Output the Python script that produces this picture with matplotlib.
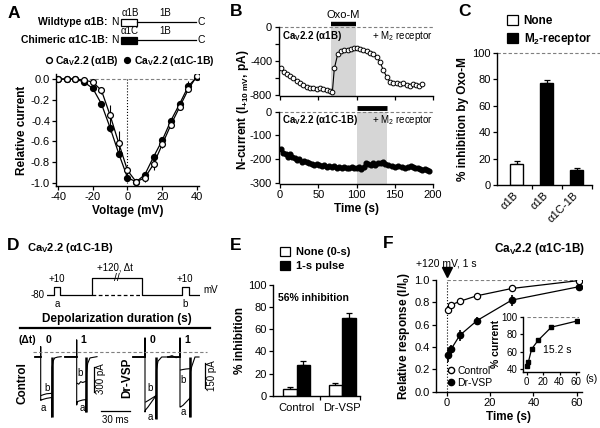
import numpy as np
import matplotlib
matplotlib.use('Agg')
import matplotlib.pyplot as plt
from matplotlib.lines import Line2D
from matplotlib.patches import Patch, Rectangle

plt.rcParams['font.family'] = ['Liberation Sans', 'DejaVu Sans']
plt.rcParams['mathtext.fontset'] = 'custom'
plt.rcParams['mathtext.rm'] = 'Liberation Sans'
plt.rcParams['mathtext.bf'] = 'Liberation Sans:bold'
plt.rcParams['mathtext.it'] = 'Liberation Sans:italic'
plt.rcParams['axes.unicode_minus'] = False
plt.rcParams['axes.linewidth'] = 1.0

# ---------------- data ----------------
# A: I-V relation
volt = [-40, -35, -30, -25, -20, -15, -10, -5, 0, 5, 10, 15, 20, 25, 30, 35, 40]
iv_wt = [0.0, 0.0, 0.0, -0.01, -0.03, -0.11, -0.35, -0.62, -0.88, -0.99, -0.95, -0.82, -0.63, -0.44, -0.27, -0.10, 0.03]
iv_wt_err = [0, 0, 0, 0.01, 0.01, 0.03, 0.10, 0.12, 0.04, 0.02, 0.04, 0.06, 0.03, 0.02, 0.02, 0.02, 0.02]
iv_chim = [0.0, 0.0, 0.0, -0.03, -0.09, -0.24, -0.47, -0.72, -0.95, -0.99, -0.92, -0.75, -0.59, -0.40, -0.24, -0.07, 0.02]
iv_chim_err = [0, 0, 0, 0.01, 0.02, 0.03, 0.04, 0.03, 0.02, 0.01, 0.02, 0.03, 0.02, 0.02, 0.02, 0.05, 0.02]

# B: time courses
b_top_t = [1.3, 5.7, 9.6, 13, 17.4, 21.8, 26.1, 30.5, 34.9, 39.2, 43.5, 47.9, 52.2, 56.6, 61, 65.3,
           68.4, 71, 75.4, 79.7, 84, 88.4, 92.8, 97.1, 100.2, 104.6, 108.8, 113.3, 117.6, 122, 126.3,
           130.6, 135, 139.4, 143.8, 148.1, 152.5, 156.8, 161.1, 165.5, 170, 174, 178, 182, 186]
b_top_i = [-488, -535, -558, -577, -605, -636, -663, -683, -702, -714, -722, -730, -714, -730, -745, -753,
           -769, -488, -323, -281, -273, -269, -265, -246, -253, -261, -273, -285, -304, -323, -351,
           -410, -507, -585, -644, -655, -663, -675, -663, -680, -690, -672, -678, -690, -675]
b_bot_t = [1.3, 4.4, 7.4, 10, 13, 16, 19.6, 22.6, 25.3, 28.3, 31.8, 34.8, 37.9, 41.4, 44.9, 47.9,
           51, 54.5, 58, 61, 64, 67.5, 71, 74, 77, 80.5, 84, 87, 90, 93.5, 97, 100, 103, 106.5,
           109.6, 111.8, 115, 118.5, 121.6, 124.7, 128, 131.5, 134.6, 137.7, 141.6, 146, 150.4,
           154.7, 159, 163.4, 167, 171, 174, 177, 180, 183, 186, 189, 192, 195]
b_bot_i = [-158, -176, -180, -190, -179, -193, -197, -204, -201, -211, -208, -211, -218, -221, -225, -222,
           -225, -228, -225, -232, -229, -235, -228, -239, -232, -239, -232, -236, -239, -232, -236, -239,
           -232, -242, -235, -218, -221, -225, -218, -225, -215, -218, -211, -221, -225, -229, -232,
           -229, -232, -236, -232, -228, -232, -236, -238, -242, -245, -243, -248, -252]
oxo_top = [66, 99]
oxo_bot = [100, 140]

# C: inhibition by Oxo-M
c_labels = ['α1B', 'α1B', 'α1C-1B']
c_vals = [16, 77, 11]
c_err = [2.5, 2.8, 1.5]
c_colors = ['white', 'black', 'black']

# D: protocol and current traces
prot_t = [0, 7, 7, 13, 13, 45, 45, 95, 95, 135, 135, 142, 142, 153]
prot_v = [-80, -80, 10, 10, -80, -80, 120, 120, -80, -80, 10, 10, -80, -80]

ctl0_a_t = [-5.5, 0, 0, 0, 0.6, 3, 6, 11, 11, 11.3, 12.5, 14, 17, 20.5]
ctl0_a_i = [0, 0, 120, -525, -520, -510, -500, -490, -725, -130, -50, -15, -5, 0]
ctl0_b_t = [0.6, 3, 6, 11]
ctl0_b_i = [-465, -455, -445, -440]
ctl1_a_t = [-11.7, 0, 0, 0, 0.6, 3, 6, 9.3, 9.3, 9.8, 11, 13.3, 20.3]
ctl1_a_i = [0, 0, 200, -580, -540, -530, -520, -515, -665, -200, -80, -15, 0]
ctl1_b_t = [0.6, 2, 4, 6, 9.3]
ctl1_b_i = [-320, -330, -300, -310, -295]
dr0_a_t = [-12, 0, 0, 0, 0.5, 3, 11, 11, 11.4, 13, 16.7, 22]
dr0_a_i = [0, 0, 114, -330, -318, -300, -232, -370, -78, -25, 0, 0]
dr0_b_t = [0.7, 3, 11]
dr0_b_i = [-270, -262, -232]
dr1_a_t = [-12, -8, -4, 0, 0, 0, 0.5, 3, 10, 10, 10.4, 11.7, 15, 19]
dr1_a_i = [0, 8, -4, 0, 114, -300, -300, -290, -246, -360, -90, -58, 0, 0]
dr1_b_t = [0.6, 3, 6, 10]
dr1_b_i = [-78, -75, -72, -70]

# E: % inhibition
e_groups = ['Control', 'Dr-VSP']
e_none = [6.5, 9.5]
e_none_err = [1.5, 2.0]
e_pulse = [28, 70]
e_pulse_err = [3.5, 5.0]

# F: recovery
f_t = [0.5, 2, 6, 14, 30, 61]
f_ctl = [0.735, 0.776, 0.809, 0.859, 0.924, 0.995]
f_ctl_err = [0.01, 0.01, 0.01, 0.01, 0.01, 0.005]
f_vsp = [0.33, 0.38, 0.504, 0.637, 0.82, 0.94]
f_vsp_err = [0.06, 0.04, 0.05, 0.03, 0.05, 0.01]
f_pct = [44, 48, 63, 73, 88, 95]

# ---------------- layout helpers ----------------
W, H = 600, 428
fig = plt.figure(figsize=(W / 100, H / 100), dpi=100)
fig.patch.set_facecolor('white')


def add_ax(l, t, r, b):
    return fig.add_axes([l / W, 1 - b / H, (r - l) / W, (b - t) / H])


def ftext(x, y, s, **kw):
    kw.setdefault('va', 'center')
    fig.text(x / W, 1 - y / H, s, **kw)


def fline(xs, ys, **kw):
    fig.add_artist(Line2D([x / W for x in xs], [1 - y / H for y in ys], **kw))


def style(ax, size=8):
    for s in ['top', 'right']:
        ax.spines[s].set_visible(False)
    ax.tick_params(labelsize=size, width=0.9, length=3, pad=1.5)
    ax.tick_params(which='minor', width=0.9, length=3)
    ax.set_facecolor('none')


DASH = dict(color='#7f7f7f', lw=0.8, ls=(0, (3, 2)))
BOLD = dict(fontweight='bold')

# ---------------- A ----------------
ftext(8, 14, 'A', fontsize=12.5, **BOLD)
ftext(108, 22, 'Wildtype α1B:', fontsize=7.5, ha='right', **BOLD)
ftext(115, 22, 'N', fontsize=7.5, ha='center')
ftext(108, 40, 'Chimeric α1C-1B:', fontsize=7.5, ha='right', **BOLD)
ftext(115, 40, 'N', fontsize=7.5, ha='center')
for yy, fc, top in [(22, 'white', 'α1B'), (40, 'black', 'α1C')]:
    fig.add_artist(Rectangle((121 / W, 1 - (yy + 3.5) / H), 16 / W, 7 / H, fc=fc, ec='k',
                             lw=0.9, transform=fig.transFigure))
    fline([137, 196], [yy, yy], color='k', lw=0.9)
    ftext(201, yy, 'C', fontsize=7.5, ha='center')
    ftext(130, yy - 9, top, fontsize=7, ha='center')
    ftext(165, yy - 9, '1B', fontsize=7, ha='center')

axA = add_ax(56.3, 73.8, 198.7, 186)
style(axA)
axA.axhline(0, **DASH)
axA.plot([0, 0], [0, -1.0], color='k', ls=':', lw=0.8)
axA.errorbar(volt, iv_chim, yerr=iv_chim_err, fmt='-o', color='k', mfc='k', mec='k',
             ms=4.2, lw=0.9, elinewidth=0.8, capsize=0)
axA.errorbar(volt, iv_wt, yerr=iv_wt_err, fmt='-o', color='k', mfc='white', mec='k',
             ms=4.2, lw=0.9, elinewidth=0.8, capsize=0, mew=0.9)
axA.set_xlim(-41, 41)
axA.set_ylim(-1.03, 0.05)
axA.set_xticks([-40, -20, 0, 20, 40])
axA.set_yticks([0, -0.2, -0.4, -0.6, -0.8, -1.0])
axA.set_yticklabels(['0.0', '-0.2', '-0.4', '-0.6', '-0.8', '-1.0'])
axA.set_xlabel('Voltage (mV)', fontsize=8.5, labelpad=2, **BOLD)
axA.set_ylabel('Relative current', fontsize=8.5, labelpad=2, **BOLD)
hA = [Line2D([], [], marker='o', ls='none', mfc='white', mec='k', ms=4.2),
      Line2D([], [], marker='o', ls='none', mfc='k', mec='k', ms=4.2)]
axA.legend(hA, [r'Ca$_\mathbf{V}$2.2 (α1B)', r'Ca$_\mathbf{V}$2.2 (α1C-1B)'], ncol=2,
           loc='upper left', bbox_to_anchor=(46 / W, 1 - 54 / H), bbox_transform=fig.transFigure,
           frameon=False, prop={'weight': 'bold', 'size': 7.5}, handlelength=0.6,
           handletextpad=0.3, columnspacing=0.5, borderaxespad=0, borderpad=0)

# ---------------- B ----------------
ftext(230, 12, 'B', fontsize=12.5, **BOLD)
axB1 = add_ax(278.5, 23.3, 434.5, 95.9)
axB2 = add_ax(278.5, 107, 434.5, 183.9)
for ax in (axB1, axB2):
    style(ax)
    ax.set_xlim(-2, 202)
    ax.set_xticks([0, 50, 100, 150, 200])
    ax.spines['bottom'].set_bounds(0, 200)
    ax.axhline(0, **DASH)
axB1.fill_between(oxo_top, -810, 0, color='#d6d6d6', lw=0)
axB1.plot(oxo_top, [32, 32], color='k', lw=3.2, solid_capstyle='butt', clip_on=False)
axB1.plot(b_top_t, b_top_i, '-o', color='k', mfc='white', mec='k', ms=3.4, lw=0.8, mew=0.7)
axB1.set_ylim(-810, 40)
axB1.set_yticks([0, -400, -800])
axB1.set_yticks([-200, -600], minor=True)
axB1.spines['left'].set_bounds(-800, 0)
axB1.set_xticklabels([])
axB1.text(np.mean(oxo_top), 137, 'Oxo-M', fontsize=8, ha='center', va='center', clip_on=False)
axB1.text(3, -110, r'Ca$_\mathbf{V}$2.2 (α1B)', fontsize=7, va='center', **BOLD)
axB1.text(200, -110, r'+ M$_2$ receptor', fontsize=7, va='center', ha='right')

axB2.fill_between(oxo_bot, -305, 0, color='#d6d6d6', lw=0)
axB2.plot(oxo_bot, [14, 14], color='k', lw=3.5, solid_capstyle='butt', clip_on=False)
axB2.plot(b_bot_t, b_bot_i, '-o', color='k', mfc='k', mec='k', ms=3.4, lw=0.8)
axB2.set_ylim(-305, 20)
axB2.set_yticks([0, -100, -200, -300])
axB2.spines['left'].set_bounds(-300, 0)
axB2.set_xlabel('Time (s)', fontsize=8.5, labelpad=2, **BOLD)
axB2.text(3, -35, r'Ca$_\mathbf{V}$2.2 (α1C-1B)', fontsize=7, va='center', **BOLD)
axB2.text(200, -35, r'+ M$_2$ receptor', fontsize=7, va='center', ha='right')
ftext(243, 110, r'N-current (I$_{\mathbf{+10\ mV}}$, pA)', fontsize=8.5, rotation=90,
      ha='center', **BOLD)

# ---------------- C ----------------
ftext(458, 12, 'C', fontsize=12.5, **BOLD)
axC = add_ax(497, 53, 591.5, 185)
style(axC)
xc = np.arange(len(c_vals))
axC.bar(xc, c_vals, width=0.43, color=c_colors, edgecolor='k', lw=1.0, zorder=2)
axC.errorbar(xc, c_vals, yerr=[np.zeros(len(c_err)), c_err], fmt='none', ecolor='k',
             elinewidth=0.9, capsize=2.5, capthick=0.9, zorder=1)
axC.plot([-0.65, 3.3], [100, 100], clip_on=False, **DASH)
axC.set_xlim(-0.65, 2.5)
axC.set_ylim(0, 100)
axC.set_yticks([0, 20, 40, 60, 80, 100])
axC.set_xticks(xc)
axC.set_xticklabels(c_labels, rotation=45, ha='right', va='center', rotation_mode='anchor')
axC.tick_params(axis='x', length=0, pad=6)
axC.set_xticks([0.5, 1.5, 2.5], minor=True)
axC.set_ylabel('% inhibition by Oxo-M', fontsize=8.5, labelpad=2, **BOLD)
hC = [Patch(fc='white', ec='k', lw=0.9), Patch(fc='k', ec='k', lw=0.9)]
axC.legend(hC, ['None', r'M$_\mathbf{2}$-receptor'], loc='upper left',
           bbox_to_anchor=(507 / W, 1 - 15 / H), bbox_transform=fig.transFigure,
           frameon=False, prop={'weight': 'bold', 'size': 8.5}, handlelength=0.9,
           handleheight=0.9, handletextpad=0.5, labelspacing=0.35, borderaxespad=0, borderpad=0)

# ---------------- D ----------------
ftext(7, 245, 'D', fontsize=12.5, **BOLD)
ftext(27, 248, r'Ca$_\mathbf{V}$2.2 (α1C-1B)', fontsize=8, **BOLD)
axP = add_ax(46.7, 276, 200, 298)
axP.set_xlim(0, 153.3)
axP.set_ylim(-115, 140)
axP.axis('off')
axP.plot(prot_t, prot_v, color='k', lw=0.9)
axP.plot([45, 95], [-80, -80], color='k', lw=0.9, ls=(0, (3, 2)))
ftext(45, 295, '-80', fontsize=7, ha='right')
ftext(57, 279, '+10', fontsize=7, ha='center')
ftext(57, 304, 'a', fontsize=7, ha='center')
ftext(115, 267, '+120, Δt', fontsize=7, ha='center')
ftext(117, 278, '//', fontsize=7.5, ha='center')
ftext(185, 279, '+10', fontsize=7, ha='center')
ftext(185, 304, 'b', fontsize=7, ha='center')
ftext(203, 290, 'mV', fontsize=7, ha='left')
ftext(117, 319, 'Depolarization duration (s)', fontsize=8.5, ha='center', **BOLD)
fline([20, 210], [328, 328], color='k', lw=1.6)
ftext(27, 340, '(Δt)', fontsize=7.5, ha='center', **BOLD)
for xx, lab in [(48, '0'), (83, '1'), (152, '0'), (187, '1')]:
    ftext(xx, 340, lab, fontsize=7.5, ha='center', **BOLD)
fline([33, 207], [351.7, 351.7], **DASH)

axCt = add_ax(30, 335, 135, 420)
axCt.set_xlim(0, 105)
axCt.set_ylim(-760, 260)
axCt.axis('off')
axDr = add_ax(130, 335, 215, 420)
axDr.set_xlim(0, 85)
axDr.set_ylim(-378, 132)
axDr.axis('off')
traces = [(axCt, 10.7, ctl0_a_t, ctl0_a_i, ctl0_b_t, ctl0_b_i),
          (axCt, 46.7, ctl1_a_t, ctl1_a_i, ctl1_b_t, ctl1_b_i),
          (axDr, 15, dr0_a_t, dr0_a_i, dr0_b_t, dr0_b_i),
          (axDr, 50, dr1_a_t, dr1_a_i, dr1_b_t, dr1_b_i)]
for ax, off, at, ai, bt, bi in traces:
    at = np.array(at) + off
    ax.plot(at, ai, color='k', lw=0.8)
    ax.plot(np.array(bt) + off, bi, color='k', lw=0.8)
    k = int(np.argmin(ai))
    ax.plot([at[k], at[k]], [0, ai[k]], color='k', lw=1.8, solid_capstyle='butt')
    ax.plot([at[0], off], [0, 0], color='k', lw=1.3)
axCt.plot([64, 64], [-120, -420], color='k', lw=0.9)
axCt.plot([71, 100], [-648, -648], color='k', lw=0.9)
axDr.plot([75, 75], [-36, -186], color='k', lw=0.9)
ftext(101, 379, '300 pA', fontsize=7, rotation=90, ha='center')
ftext(212, 376, '150 pA', fontsize=7, rotation=90, ha='center')
ftext(115.5, 420, '30 ms', fontsize=7, ha='center')
ftext(22, 383, 'Control', fontsize=8.5, rotation=90, ha='center', **BOLD)
ftext(127, 378, 'Dr-VSP', fontsize=8.5, rotation=90, ha='center', **BOLD)
for xb, yb, xa, ya in [(46.7, 388, 43, 408), (80, 373, 82, 408),
                       (150, 388, 150, 417), (183, 380, 183, 412)]:
    ftext(xb, yb, 'b', fontsize=7, ha='center')
    ftext(xa, ya, 'a', fontsize=7, ha='center')

# ---------------- E ----------------
ftext(230, 245, 'E', fontsize=12.5, **BOLD)
axE = add_ax(273.3, 285, 360, 395.7)
style(axE)
xe = np.arange(len(e_groups))
bw = 0.295
axE.bar(xe - bw / 2, e_none, width=bw, color='white', edgecolor='k', lw=1.0, zorder=2)
axE.bar(xe + bw / 2, e_pulse, width=bw, color='black', edgecolor='k', lw=1.0, zorder=2)
axE.errorbar(xe - bw / 2, e_none, yerr=[np.zeros(2), e_none_err], fmt='none', ecolor='k',
             elinewidth=0.9, capsize=2.5, capthick=0.9, zorder=1)
axE.errorbar(xe + bw / 2, e_pulse, yerr=[np.zeros(2), e_pulse_err], fmt='none', ecolor='k',
             elinewidth=0.9, capsize=2.5, capthick=0.9, zorder=1)
axE.set_xlim(-0.508, 1.39)
axE.set_ylim(0, 100)
axE.set_yticks([0, 20, 40, 60, 80, 100])
axE.set_xticks(xe)
axE.set_xticklabels(e_groups)
axE.tick_params(axis='x', length=0, pad=5)
axE.set_xticks([0.51, 1.39], minor=True)
axE.set_ylabel('% inhibition', fontsize=8.5, labelpad=2, **BOLD)
axE.text(0.37, 88, '56% inhibition', fontsize=7.5, ha='center', va='center', **BOLD)
hE = [Patch(fc='white', ec='k', lw=0.9), Patch(fc='k', ec='k', lw=0.9)]
axE.legend(hE, ['None (0-s)', '1-s pulse'], loc='upper left',
           bbox_to_anchor=(280 / W, 1 - 247 / H), bbox_transform=fig.transFigure,
           frameon=False, prop={'weight': 'bold', 'size': 8}, handlelength=0.9,
           handleheight=0.9, handletextpad=0.5, labelspacing=0.3, borderaxespad=0, borderpad=0)

# ---------------- F ----------------
ftext(383, 243, 'F', fontsize=12.5, **BOLD)
axF = add_ax(436, 280, 582, 391.7)
style(axF)
axF.plot([0, 62], [1, 1], **DASH)
axF.plot([0, 0], [0, 1.0], color='k', ls=':', lw=0.8)
axF.plot([0], [1.075], marker='v', color='k', ms=7, clip_on=False)
axF.errorbar(f_t, f_vsp, yerr=f_vsp_err, fmt='-o', color='k', mfc='k', mec='k', ms=4.5,
             lw=0.9, elinewidth=1.2, capsize=0)
axF.errorbar(f_t, f_ctl, yerr=f_ctl_err, fmt='-o', color='k', mfc='white', mec='k', ms=4.5,
             lw=0.9, elinewidth=0.8, capsize=0, mew=0.9)
axF.set_xlim(-4.94, 62.4)
axF.set_ylim(0, 1.0)
axF.set_xticks([0, 20, 40, 60])
axF.set_yticks([0, 0.2, 0.4, 0.6, 0.8, 1.0])
axF.set_yticklabels(['0.0', '0.2', '0.4', '0.6', '0.8', '1.0'])
axF.set_xlabel('Time (s)', fontsize=8.5, labelpad=2, **BOLD)
axF.set_ylabel(r'Relative response (I/I$_\mathbf{0}$)', fontsize=8.5, labelpad=2, **BOLD)
ftext(540, 249, r'Ca$_\mathbf{V}$2.2 (α1C-1B)', fontsize=8.5, ha='center', **BOLD)
ftext(446, 263, '+120 mV, 1 s', fontsize=7.5, ha='center')
hF = [Line2D([], [], marker='o', ls='none', mfc='white', mec='k', ms=4.5),
      Line2D([], [], marker='o', ls='none', mfc='k', mec='k', ms=4.5)]
axF.legend(hF, ['Control', 'Dr-VSP'], loc='upper left',
           bbox_to_anchor=(448 / W, 1 - 366 / H), bbox_transform=fig.transFigure,
           frameon=False, prop={'size': 7.5}, handlelength=0.6, handletextpad=0.3,
           labelspacing=0.15, borderaxespad=0, borderpad=0)

axI = add_ax(522.7, 316.7, 579.2, 371.7)
style(axI, size=7)
axI.tick_params(length=2.5, pad=1)
axI.plot([0, 64], [100, 100], **DASH)
axI.plot(f_t, f_pct, '-s', color='k', ms=3.5, lw=0.9)
axI.set_xlim(-4.9, 64)
axI.set_ylim(37, 100)
axI.set_xticks([0, 20, 40, 60])
axI.set_yticks([40, 60, 80, 100])
axI.set_ylabel('% current', fontsize=7.5, labelpad=0.5, **BOLD)
axI.text(37, 62, '15.2 s', fontsize=7.5, ha='center', va='center')
ftext(591, 379, '(s)', fontsize=7.5, ha='center')

fig.savefig('out.png', dpi=100, facecolor='white')
